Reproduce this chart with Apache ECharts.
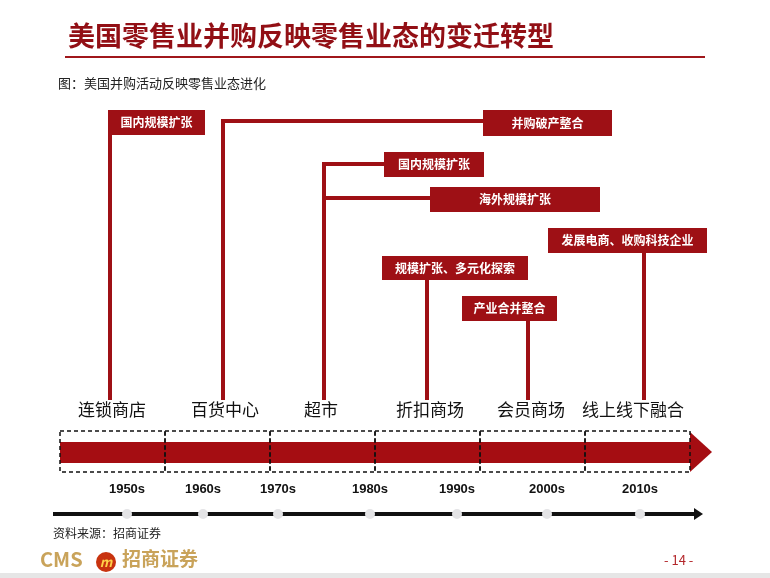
<!DOCTYPE html>
<html><head><meta charset="utf-8">
<script src="https://cdn.jsdelivr.net/npm/echarts@6/dist/echarts.min.js"></script>
<style>html,body{margin:0;padding:0;background:#fff}#c{width:770px;height:578px}</style>
</head><body><div id="c"></div>
<script>
const title = '美国零售业并购反映零售业态的变迁转型';
const subtitle = '图：美国并购活动反映零售业态进化';
const eras = ['连锁商店','百货中心','超市','折扣商场','会员商场','线上线下融合'];
const years = ['1950s','1960s','1970s','1980s','1990s','2000s','2010s'];
const events = ['国内规模扩张','并购破产整合','国内规模扩张','海外规模扩张','规模扩张、多元化探索','产业合并整合','发展电商、收购科技企业'];
const source = '资料来源：招商证券';

const RED = '#9e1015';
const F = '"Noto Sans CJK SC", "Noto Sans", sans-serif';
const eraX = [112,225,321,430,531,633];
const yearX = [127,203,278,370,457,547,640];
const boxes = [[108,205,110,135],[483,612,110,136],[384,484,152,177],[430,600,187,212],[382,528,256,280],[462,557,296,321],[548,707,228,253]];
const g = [];
g.push({type:'text',left:68,top:22,style:{text:title,font:'bold 27px '+F,fill:'#920f15'}});
g.push({type:'rect',shape:{x:65,y:56,width:640,height:2},style:{fill:'#a0171b'}});
g.push({type:'text',left:58,top:77,style:{text:subtitle,font:'13px '+F,fill:'#222'}});
const L = (pts)=>g.push({type:'polyline',shape:{points:pts},style:{stroke:RED,lineWidth:4,fill:null}});
L([[110,135],[110,400]]);
L([[223,400],[223,121],[483,121]]);
L([[324,400],[324,164],[384,164]]);
L([[324,198],[430,198]]);
L([[427,280],[427,400]]);
L([[528,321],[528,400]]);
L([[644,253],[644,400]]);
boxes.forEach((b,i)=>{
  g.push({type:'rect',shape:{x:b[0],y:b[2],width:b[1]-b[0],height:b[3]-b[2]},style:{fill:RED}});
  g.push({type:'text',x:(b[0]+b[1])/2,y:(b[2]+b[3])/2,style:{text:events[i],font:'bold 12px '+F,fill:'#fff',align:'center',verticalAlign:'middle'}});
});
eras.forEach((e,i)=>g.push({type:'text',x:eraX[i],y:410,style:{text:e,font:'17px '+F,fill:'#111',align:'center',verticalAlign:'middle'}}));
g.push({type:'rect',shape:{x:60,y:442,width:634,height:21},style:{fill:'#a50d12'}});
g.push({type:'polygon',shape:{points:[[690,432],[712,452],[690,472]]},style:{fill:'#a50d12'}});
for(let i=0;i<6;i++) g.push({type:'rect',shape:{x:60+i*105,y:431,width:105,height:41},style:{fill:null,stroke:'#111',lineWidth:1.5,lineDash:[4,3]}});
years.forEach((y,i)=>{
  g.push({type:'text',x:yearX[i],y:489,style:{text:y,font:'bold 13px Liberation Sans, Arial',fill:'#111',align:'center',verticalAlign:'middle'}});
});
g.push({type:'rect',shape:{x:53,y:512,width:642,height:4},style:{fill:'#111'}});
g.push({type:'polygon',shape:{points:[[694,508],[703,514],[694,520]]},style:{fill:'#111'}});
yearX.forEach(x=>g.push({type:'circle',shape:{cx:x,cy:514,r:5},style:{fill:'#e4e4e6'}}));
g.push({type:'text',left:53,top:527,style:{text:source,font:'12px '+F,fill:'#222'}});
g.push({type:'text',left:40,top:549,style:{text:'CMS',font:'bold 20px '+F,fill:'#c9a35a'}});
g.push({type:'circle',shape:{cx:106,cy:562,r:10},style:{fill:'#c8330f'}});
g.push({type:'text',x:106,y:562,style:{text:'m',font:'bold italic 13px '+F,fill:'#ffd24a',align:'center',verticalAlign:'middle'}});
g.push({type:'text',left:122,top:549,style:{text:'招商证券',font:'bold 19px '+F,fill:'#c9a35a'}});
g.push({type:'text',left:664,top:554,style:{text:'- 14 -',font:'13px '+F,fill:'#b3262a'}});
g.push({type:'rect',shape:{x:0,y:573,width:770,height:5},style:{fill:'#e6e6e6'}});
const chart = echarts.init(document.getElementById('c'));
chart.setOption({animation:false,graphic:g});
</script></body></html>
